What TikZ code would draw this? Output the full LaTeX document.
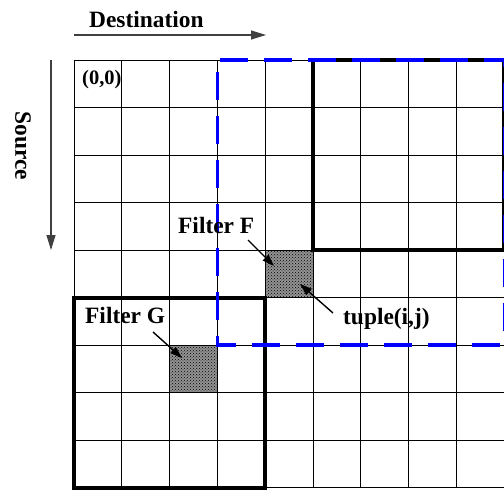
\documentclass[tikz,border=0pt]{standalone}
\usepackage{fontspec}
\setmainfont{Liberation Serif}
\usetikzlibrary{arrows.meta,patterns}
\tikzset{
  lbl/.style={font=\fontsize{23.4}{28}\selectfont\bfseries, inner sep=0pt, anchor=base west},
  gridline/.style={line width=1pt, black},
  thickbox/.style={line width=4pt, black},
  bluedash/.style={line width=3.5pt, blue, dash pattern=on 28pt off 16pt},
  shade/.style={fill=gray!85},
  pointer/.style={line width=1.4pt, -{Triangle[length=12pt,width=8pt]}},
  axisarrow/.style={line width=1.2pt, black!75, -{Triangle[length=15pt,width=9pt]}}
}
\begin{document}
\begin{tikzpicture}[x=1pt,y=-1pt]
\useasboundingbox (0,0) rectangle (504,490);
\clip (0,0) rectangle (504,490);
\def\cw{47.8}
\def\rh{47.5}
% shaded cells
\fill[shade] (265.2,250) rectangle (313,297.5);
\fill[pattern=crosshatch dots, pattern color=black] (265.2,250) rectangle (313,297.5);
\fill[shade] (169.6,345) rectangle (217.4,392.5);
\fill[pattern=crosshatch dots, pattern color=black] (169.6,345) rectangle (217.4,392.5);
% grid
\foreach \i in {0,...,9} {
  \draw[gridline] (74+\i*\cw,60) -- (74+\i*\cw,487.5);
  \draw[gridline] (74,60+\i*\rh) -- (504.2,60+\i*\rh);
}
% thick boxes
\draw[thickbox] (313,60) rectangle (503.5,250);
\draw[thickbox] (74,297.5) rectangle (265.2,487.5);
% blue dashed region
\draw[bluedash, dash phase=32pt] (217.4,60) -- (217.4,345) -- (505,345);
\draw[bluedash, dash phase=41pt] (217.4,60) -- (505,60) -- (505,345);
% labels
\node[lbl] (dest) at (89,27) {Destination};
\node[lbl, font=\fontsize{20.5}{24}\selectfont\bfseries] (origin) at (82,84) {(0,0)};
\node[font=\fontsize{23.4}{28}\selectfont\bfseries, inner sep=0pt, rotate=-90] (src) at (23,146) {Source};
\node[lbl] (filterF) at (178,233) {Filter F};
\node[lbl] (tuple) at (343,324) {tuple(i,j)};
\node[lbl] (filterG) at (85,323) {Filter G};
% axis arrows
\coordinate (d0) at (74,35);
\coordinate (d1) at (266,35);
\draw[axisarrow] (d0) -- (d1);
\coordinate (s0) at (51,60);
\coordinate (s1) at (51,250);
\draw[axisarrow] (s0) -- (s1);
% pointers
\coordinate (fA) at (248,240);
\coordinate (fB) at (274,266);
\draw[pointer] (fA) -- (fB);
\coordinate (tA) at (333,313);
\coordinate (tB) at (300,284);
\draw[pointer] (tA) -- (tB);
\coordinate (gA) at (153,332);
\coordinate (gB) at (182,358);
\draw[pointer] (gA) -- (gB);
\end{tikzpicture}
\end{document}
